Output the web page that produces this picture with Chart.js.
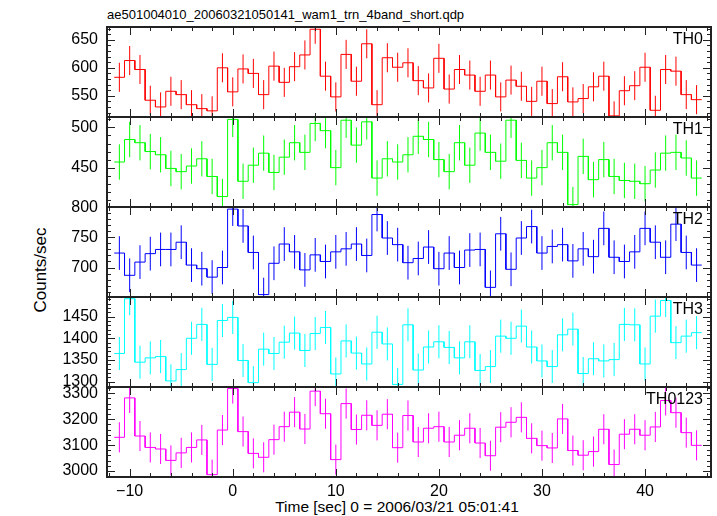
<!DOCTYPE html>
<html>
<head>
<meta charset="utf-8">
<script src="https://cdn.jsdelivr.net/npm/chart.js@4"></script>
<style>
  body { margin: 0; background: #fff; }
  #wrap { position: relative; width: 717px; height: 516px; background: #fff; overflow: hidden;
          font-family: "Liberation Sans", Arial, sans-serif; color: #000; }
  #wrap canvas { position: absolute; left: 0; }
  #title { position: absolute; left: 107px; top: 8px; font-size: 13px; line-height: 13px; white-space: nowrap; }
  #ylab { position: absolute; left: 41px; top: 270px; font-size: 17px; white-space: nowrap;
          transform: translate(-50%, -50%) rotate(-90deg); }
  #xlab { position: absolute; left: 397px; top: 507px; font-size: 15.5px; white-space: nowrap;
          transform: translate(-50%, -50%); }
</style>
</head>
<body>
<div id="wrap">
  <div id="title">ae501004010_20060321050141_wam1_trn_4band_short.qdp</div>
  <div id="ylab">Counts/sec</div>
  <div id="xlab"></div>
</div>
<script>
// bin centres (sec), 1 s bins
const binTimes = [-11, -10, -9, -8, -7, -6, -5, -4, -3, -2, -1, 0, 1, 2, 3, 4, 5, 6, 7, 8,
  9, 10, 11, 12, 13, 14, 15, 16, 17, 18, 19, 20, 21, 22, 23, 24, 25, 26, 27, 28,
  29, 30, 31, 32, 33, 34, 35, 36, 37, 38, 39, 40, 41, 42, 43, 44, 45];

// count rates
const th0 = [583, 613, 597, 542, 530, 558, 552, 534, 527, 523, 600, 557, 598, 590, 552, 603, 574, 602, 623, 669,
  585, 548, 624, 576, 643, 534, 618, 601, 609, 577, 564, 617, 562, 597, 587, 558, 587, 548, 578, 567,
  540, 576, 536, 584, 539, 545, 566, 585, 514, 559, 568, 601, 524, 597, 594, 552, 543];
const th1 = [457, 485, 481, 470, 466, 449, 445, 452, 461, 439, 414, 510, 433, 453, 468, 444, 463, 481, 469, 505,
  496, 450, 509, 478, 507, 437, 461, 457, 466, 489, 485, 460, 445, 481, 453, 493, 469, 458, 509, 459,
  437, 450, 481, 469, 404, 464, 435, 460, 439, 434, 433, 430, 447, 468, 469, 462, 437];
const th2 = [724, 687, 709, 723, 730, 730, 742, 704, 698, 684, 700, 797, 769, 725, 655, 707, 739, 726, 696, 721,
  710, 726, 731, 739, 720, 788, 749, 738, 708, 715, 734, 698, 724, 700, 729, 730, 667, 756, 697, 749,
  768, 724, 735, 738, 711, 731, 718, 765, 717, 710, 726, 765, 742, 717, 772, 725, 704];
const th3 = [1365, 1491, 1345, 1355, 1358, 1302, 1328, 1400, 1432, 1340, 1441, 1448, 1349, 1298, 1375, 1365, 1391, 1412, 1372, 1411,
  1425, 1318, 1394, 1366, 1341, 1414, 1387, 1294, 1431, 1327, 1380, 1392, 1379, 1355, 1392, 1326, 1335, 1405, 1400, 1428,
  1380, 1348, 1335, 1408, 1421, 1319, 1353, 1348, 1351, 1432, 1431, 1341, 1451, 1487, 1390, 1405, 1413];
const th0123 = [3130, 3282, 3135, 3091, 3085, 3041, 3070, 3091, 3120, 2986, 3158, 3318, 3152, 3068, 3053, 3121, 3171, 3227, 3162, 3308,
  3221, 3044, 3260, 3160, 3215, 3176, 3219, 3090, 3214, 3112, 3165, 3171, 3112, 3138, 3165, 3108, 3059, 3169, 3188, 3207,
  3126, 3098, 3089, 3201, 3079, 3061, 3075, 3161, 3025, 3142, 3161, 3138, 3170, 3272, 3225, 3148, 3099];

// 1-sigma error bar half length per band
const errors = [26, 22, 28, 38, 58];

// labelled y ticks per band
const th0Ticks = [550, 600, 650];
const th1Ticks = [450, 500];
const th2Ticks = [700, 750, 800];
const th3Ticks = [1300, 1350, 1400, 1450];
const th0123Ticks = [3000, 3100, 3200, 3300];
const xTicks = [-10, 0, 10, 20, 30, 40];

const panelNames = ['TH0', 'TH1', 'TH2', 'TH3', 'TH0123'];
const panelValues = [th0, th1, th2, th3, th0123];
const panelTicks = [th0Ticks, th1Ticks, th2Ticks, th3Ticks, th0123Ticks];
const panelColors = ['#ff0000', '#00ff00', '#0000ff', '#00ffff', '#ff00ff'];
const yRanges = [[512, 673], [401, 513], [651, 800.5], [1288, 1495], [2977, 3324]];
const yMajor = [50, 50, 50, 50, 100];
const yMinor = [10, 10, 10, 10, 20];
const xRange = [-12.2, 46.4];
const xLabel = 'Time [sec] 0 = 2006/03/21 05:01:41';

const FONT = '"Liberation Sans", Arial, sans-serif';
const MARGIN = 20;   // room around each panel for edge tick labels

document.getElementById('xlab').textContent = xLabel;

// histogram outline: each bin drawn from left edge to right edge
function stepPoints(values) {
  const pts = [];
  binTimes.forEach((t, i) => {
    pts.push({ x: t - 0.5, y: values[i] }, { x: t + 0.5, y: values[i] });
  });
  return pts;
}

// vertical error bars, separated by gaps
function errPoints(values, err) {
  const pts = [];
  binTimes.forEach((t, i) => {
    pts.push({ x: t, y: values[i] - err }, { x: t, y: values[i] + err }, { x: t, y: null });
  });
  return pts;
}

// box, inward ticks on all four sides, band label
const framePlugin = {
  id: 'frame',
  afterDatasetsDraw(chart, args, opts) {
    const { ctx, chartArea: a } = chart;
    const x = chart.scales.x, y = chart.scales.y;
    ctx.save();
    ctx.strokeStyle = '#222';
    ctx.lineWidth = 1;
    ctx.beginPath();
    for (let v = Math.ceil(x.min / 2) * 2; v <= x.max; v += 2) {
      const px = Math.round(x.getPixelForValue(v)) + 0.5;
      const len = v % 10 === 0 ? 8 : 4;
      ctx.moveTo(px, a.bottom); ctx.lineTo(px, a.bottom - len);
      ctx.moveTo(px, a.top); ctx.lineTo(px, a.top + len);
    }
    for (let v = Math.ceil(y.min / opts.minor) * opts.minor; v <= y.max; v += opts.minor) {
      const py = Math.round(y.getPixelForValue(v)) + 0.5;
      const len = v % opts.major === 0 ? 8 : 4;
      ctx.moveTo(a.left, py); ctx.lineTo(a.left + len, py);
      ctx.moveTo(a.right, py); ctx.lineTo(a.right - len, py);
    }
    ctx.stroke();
    ctx.lineWidth = 2;
    ctx.strokeRect(a.left, a.top, a.right - a.left, a.bottom - a.top);
    ctx.fillStyle = '#000';
    ctx.font = '16px ' + FONT;
    ctx.textAlign = 'right';
    ctx.textBaseline = 'alphabetic';
    ctx.fillText(opts.label, a.right - 8, a.top + 17);
    ctx.restore();
  }
};

const wrap = document.getElementById('wrap');

panelNames.forEach((name, k) => {
  const isLast = k === panelNames.length - 1;
  const top = 27 + 90 * k;
  const canvas = document.createElement('canvas');
  canvas.width = 717;
  canvas.height = isLast ? 516 - (top - MARGIN) : 90 + 2 * MARGIN;
  canvas.style.top = (top - MARGIN) + 'px';
  wrap.appendChild(canvas);

  const values = panelValues[k];
  new Chart(canvas, {
    type: 'line',
    data: {
      datasets: [{
        data: stepPoints(values),
        borderColor: panelColors[k],
        borderWidth: 1,
        pointRadius: 0,
        tension: 0,
        fill: false
      }, {
        data: errPoints(values, errors[k]),
        borderColor: panelColors[k],
        borderWidth: 1,
        pointRadius: 0,
        spanGaps: false,
        fill: false
      }]
    },
    options: {
      responsive: false,
      animation: false,
      devicePixelRatio: 1,
      layout: { padding: { top: MARGIN, bottom: isLast ? 0 : MARGIN, left: 0, right: 6 } },
      plugins: {
        legend: { display: false },
        tooltip: { enabled: false },
        frame: { label: name, major: yMajor[k], minor: yMinor[k] }
      },
      scales: {
        x: {
          type: 'linear',
          min: xRange[0],
          max: xRange[1],
          display: isLast,
          grid: { display: false, drawTicks: false },
          border: { display: false },
          afterBuildTicks: s => { s.ticks = xTicks.map(v => ({ value: v })); },
          ticks: {
            autoSkip: false,
            maxRotation: 0,
            padding: 5,
            color: '#000',
            font: { family: FONT, size: 16 },
            callback: v => v < 0 ? '\u2212' + (-v) : String(v)
          },
          afterFit: s => { if (isLast) s.height = 39; }
        },
        y: {
          type: 'linear',
          min: yRanges[k][0],
          max: yRanges[k][1],
          grid: { display: false, drawTicks: false },
          border: { display: false },
          afterBuildTicks: s => { s.ticks = panelTicks[k].map(v => ({ value: v })); },
          ticks: {
            autoSkip: false,
            padding: 9,
            color: '#000',
            font: { family: FONT, size: 16 },
            callback: v => String(v)
          },
          afterFit: s => { s.width = 107; }
        }
      }
    },
    plugins: [framePlugin]
  });
});
</script>
</body>
</html>
